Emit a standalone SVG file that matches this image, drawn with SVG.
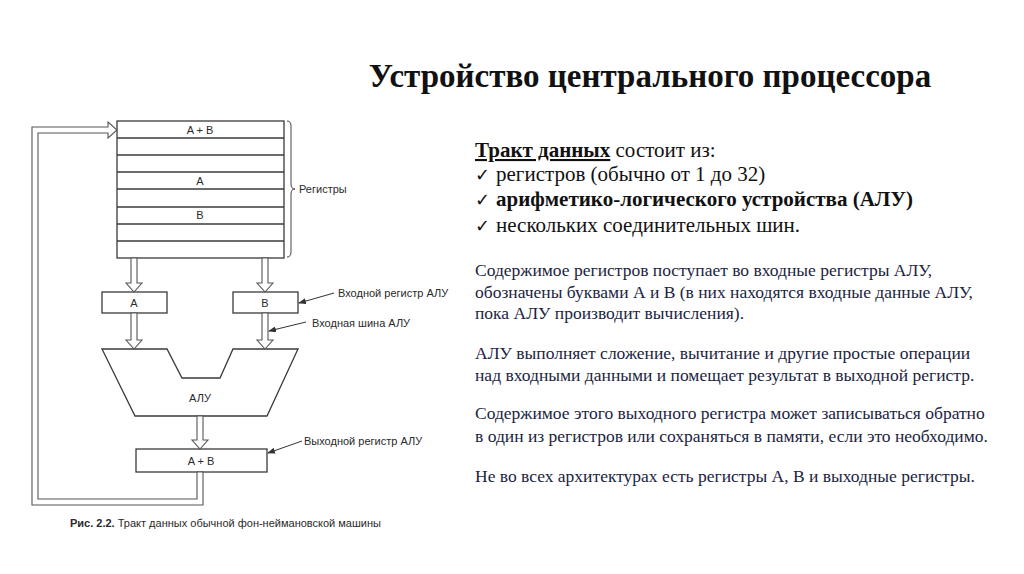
<svg xmlns="http://www.w3.org/2000/svg" width="1024" height="574" viewBox="0 0 1024 574">
<style>
.ln{fill:#fff;stroke:#3a3a3a;stroke-width:1.3}
.bus{fill:#fff;stroke:#555;stroke-width:1.1;stroke-linejoin:miter}
.dl{font-family:"Liberation Sans",Arial,sans-serif;font-size:11px;fill:#2a2a2a}
.lead{stroke:#333;stroke-width:1;fill:none}
.hd{font-family:"Liberation Serif","Times New Roman",serif;font-size:21px;fill:#111}
.pr{font-family:"Liberation Serif","Times New Roman",serif;font-size:17.5px;fill:#1b2440}
.ck{font-family:"DejaVu Sans",sans-serif;font-size:18px;fill:#111}
</style>
<defs>
<marker id="ah" markerWidth="8" markerHeight="6" refX="7" refY="3" orient="auto" markerUnits="userSpaceOnUse">
<path d="M0,0 L8,3 L0,6 Z" fill="#333"/>
</marker>
</defs>
<rect width="1024" height="574" fill="#fff"/>
<text x="650" y="87" text-anchor="middle" font-family="Liberation Serif,Times New Roman,serif" font-weight="bold" font-size="33" fill="#111">Устройство центрального процессора</text>

<g id="registers">
<rect class="ln" x="117" y="121" width="167" height="137"/>
<g stroke="#3a3a3a" stroke-width="1.3">
<line x1="117" y1="138" x2="284" y2="138"/>
<line x1="117" y1="155" x2="284" y2="155"/>
<line x1="117" y1="172" x2="284" y2="172"/>
<line x1="117" y1="189" x2="284" y2="189"/>
<line x1="117" y1="207" x2="284" y2="207"/>
<line x1="117" y1="224" x2="284" y2="224"/>
<line x1="117" y1="241" x2="284" y2="241"/>
</g>
<text class="dl" x="200" y="134" text-anchor="middle">A + B</text>
<text class="dl" x="200" y="185" text-anchor="middle">A</text>
<text class="dl" x="200" y="219" text-anchor="middle">B</text>
<path d="M287,121 Q291,121 291,126 L291,184 Q291,189 295,189 Q291,189 291,194 L291,252 Q291,257 287,257" fill="none" stroke="#444" stroke-width="1"/>
<text class="dl" x="299" y="193">Регистры</text>
</g>

<g id="regA">
<rect class="ln" x="102" y="292" width="65" height="21"/>
<text class="dl" x="134" y="307" text-anchor="middle">A</text>
</g>
<g id="regB">
<rect class="ln" x="233" y="292" width="65" height="21"/>
<text class="dl" x="265" y="307" text-anchor="middle">B</text>
</g>
<g id="alu">
<polygon class="ln" points="102,349 167,349 182,378 220,378 233,349 298,349 267,416 135,416"/>
<text class="dl" x="200" y="402" text-anchor="middle">АЛУ</text>
</g>
<g id="outReg">
<rect class="ln" x="136" y="449" width="131" height="23"/>
<text class="dl" x="201" y="465" text-anchor="middle">A + B</text>
</g>

<g id="connectors">
<polygon class="bus" points="131,258 137,258 137,283 142,283 134,292 126,283 131,283"/>
<polygon class="bus" points="262,258 268,258 268,283 273,283 265,292 257,283 262,283"/>
<polygon class="bus" points="131,313 137,313 137,340 142,340 134,349 126,340 131,340"/>
<polygon class="bus" points="262,313 268,313 268,340 273,340 265,349 257,340 262,340"/>
<polygon class="bus" points="197,416 203,416 203,440 208,440 200,449 192,440 197,440"/>
<polygon class="bus" points="203,472 203,505 32,505 32,127 108,127 108,122 117,130 108,138 108,133 38,133 38,499 197,499 197,472"/>
<line class="lead" x1="334" y1="293" x2="299" y2="303" marker-end="url(#ah)"/>
<line class="lead" x1="306" y1="322" x2="269" y2="331" marker-end="url(#ah)"/>
<line class="lead" x1="302" y1="441" x2="268" y2="453" marker-end="url(#ah)"/>
</g>
<text class="dl" x="338" y="297">Входной регистр АЛУ</text>
<text class="dl" x="312" y="327">Входная шина АЛУ</text>
<text class="dl" x="304" y="445">Выходной регистр АЛУ</text>
<text class="dl" x="70" y="527" font-size="11.8"><tspan font-weight="bold">Рис. 2.2.</tspan> Тракт данных обычной фон-неймановской машины</text>

<g id="textBlock">
<text class="hd" x="475" y="157"><tspan font-weight="bold" text-decoration="underline">Тракт данных</tspan> состоит из:</text>
<text class="ck" x="475" y="181">✓</text>
<text class="hd" x="496" y="181">регистров (обычно от 1 до 32)</text>
<text class="ck" x="475" y="206">✓</text>
<text class="hd" x="496" y="206" font-weight="bold">арифметико-логического устройства (АЛУ)</text>
<text class="ck" x="475" y="232">✓</text>
<text class="hd" x="496" y="232">нескольких соединительных шин.</text>
<text class="pr" x="475" y="276">Содержимое регистров поступает во входные регистры АЛУ,</text>
<text class="pr" x="475" y="298">обозначены буквами А и В (в них находятся входные данные АЛУ,</text>
<text class="pr" x="475" y="319">пока АЛУ производит вычисления).</text>
<text class="pr" x="475" y="359">АЛУ выполняет сложение, вычитание и другие простые операции</text>
<text class="pr" x="475" y="381">над входными данными и помещает результат в выходной регистр.</text>
<text class="pr" x="475" y="419">Содержимое этого выходного регистра может записываться обратно</text>
<text class="pr" x="475" y="442">в один из регистров или сохраняться в памяти, если это необходимо.</text>
<text class="pr" x="475" y="482">Не во всех архитектурах есть регистры А, В и выходные регистры.</text>
</g>
</svg>
